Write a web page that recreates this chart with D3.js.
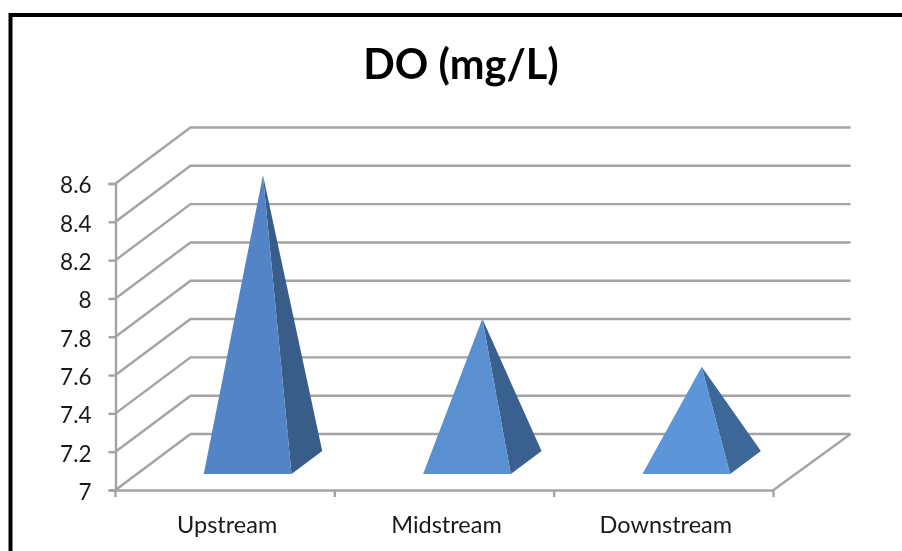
<!DOCTYPE html>
<html>
<head>
<meta charset="utf-8">
<script src="https://cdn.jsdelivr.net/npm/d3@7"></script>
<style>
  html, body { margin: 0; padding: 0; background: #fff; }
  svg { display: block; font-family: Lato, "Open Sans", sans-serif; filter: blur(0.35px); }
</style>
</head>
<body>
<svg id="chart" width="902" height="551"></svg>
<script>
const categories = ["Upstream", "Midstream", "Downstream"];
const values = [8.5, 7.75, 7.5];
const yTicks = [7, 7.2, 7.4, 7.6, 7.8, 8, 8.2, 8.4, 8.6];
const frontColors = ["#5384c5", "#5a8fd0", "#5c95d8"];
const sideColors = ["#375d88", "#3a6090", "#3c6796"];

const svg = d3.select("#chart");

// chart frame, runs off the right and bottom of the picture
svg.append("path")
  .attr("d", "M10.5,551V15H902")
  .attr("fill", "none")
  .attr("stroke", "#000")
  .attr("stroke-width", 4);

svg.append("text")
  .attr("x", 461)
  .attr("y", 79)
  .attr("text-anchor", "middle")
  .style("font-size", "41.5px")
  .style("font-weight", "700")
  .style("fill", "#000")
  .text("DO (mg/L)");

const x = d3.scaleBand().domain(categories).range([115.5, 773.5]);
const y = d3.scaleLinear().domain([7, 8.6]).range([490, 183.5]);

// depth offset of the back wall
const depthX = 75;
const depthY = -56;
const backLeft = 190.5;
const backRight = 850.5;

const grey = "#a3a3a3";
const lineW = 2.4;

// gridlines: side wall then back wall
const grid = svg.append("g");
grid.selectAll("path")
  .data(yTicks)
  .enter()
  .append("path")
  .attr("d", (d) => {
    const y0 = y(d);
    return `M${x.range()[0]},${y0}L${backLeft},${y0 + depthY}H${backRight}`;
  })
  .attr("fill", "none")
  .attr("stroke", grey)
  .attr("stroke-width", lineW);

// floor right edge
svg.append("line")
  .attr("x1", x.range()[1])
  .attr("y1", y(7))
  .attr("x2", backRight)
  .attr("y2", y(7) + depthY)
  .attr("stroke", grey)
  .attr("stroke-width", lineW);

// Y-Axis
const yAxis = svg.append("g")
  .attr("transform", `translate(${x.range()[0]},0)`)
  .call(d3.axisLeft(y).tickValues(yTicks).tickFormat((d) => d3.format("~g")(d)).tickSize(7).tickPadding(17));
yAxis.selectAll("path, line").attr("stroke", grey).attr("stroke-width", lineW);
yAxis.selectAll("text")
  .attr("fill", "#1a1a1a")
  .attr("dy", "0.42em")
  .style("font-size", "22.5px")
  .style("font-family", "Lato, sans-serif");

// X-Axis
const xAxis = svg.append("g")
  .attr("transform", `translate(0,${y(7)})`)
  .call(d3.axisBottom(x).tickSize(0).tickPadding(26));
xAxis.select("path").attr("stroke", grey).attr("stroke-width", lineW);
xAxis.selectAll("text")
  .attr("fill", "#1a1a1a")
  .attr("dx", 2)
  .style("font-size", "23.5px")
  .style("font-family", "Lato, sans-serif");

// ticks sit on the band edges
const edges = categories.map((c) => x(c)).concat(x.range()[1]);
xAxis.selectAll(".edge")
  .data(edges)
  .enter()
  .append("line")
  .attr("class", "edge")
  .attr("x1", (d) => d)
  .attr("x2", (d) => d)
  .attr("y1", 0)
  .attr("y2", 7)
  .attr("stroke", grey)
  .attr("stroke-width", lineW);

// pyramids: base sits between these depths on the floor
const depthFront = 0.286;
const depthBack = 0.696;
const depthMid = (depthFront + depthBack) / 2;
const halfWidth = x.bandwidth() * 0.2;

function project(px, value, depth) {
  return [px + depth * depthX, y(value) + depth * depthY];
}

const pyramids = svg.append("g")
  .selectAll("g")
  .data(categories.map((c, i) => ({ c: c, v: values[i], i: i })))
  .enter()
  .append("g");

pyramids.append("path")
  .attr("fill", (d) => sideColors[d.i])
  .attr("d", (d) => {
    const cx = x(d.c) + x.bandwidth() / 2 + 1;
    return d3.line()([
      project(cx + halfWidth, 7, depthFront),
      project(cx + halfWidth, 7, depthBack),
      project(cx, d.v, depthMid),
    ]) + "Z";
  });

pyramids.append("path")
  .attr("fill", (d) => frontColors[d.i])
  .attr("d", (d) => {
    const cx = x(d.c) + x.bandwidth() / 2 + 1;
    return d3.line()([
      project(cx - halfWidth, 7, depthFront),
      project(cx + halfWidth, 7, depthFront),
      project(cx, d.v, depthMid),
    ]) + "Z";
  });
</script>
</body>
</html>
